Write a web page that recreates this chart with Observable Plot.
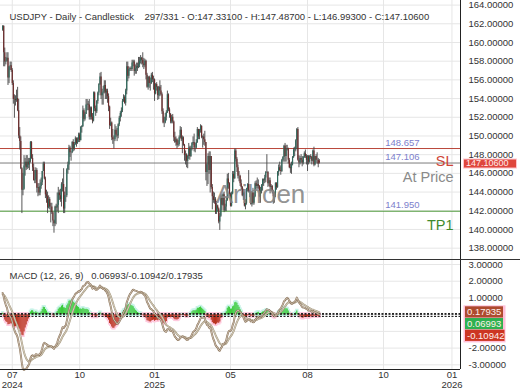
<!DOCTYPE html>
<html><head><meta charset="utf-8">
<script src="https://cdn.jsdelivr.net/npm/d3@7"></script>
<script src="https://cdn.jsdelivr.net/npm/@observablehq/plot@0.6"></script>
<style>
html,body{margin:0;padding:0;background:#fff;}
#chart{position:relative;width:520px;height:390px;overflow:hidden;background:#fff;}
#chart svg{position:absolute;left:0;}
#sep{position:absolute;left:0;top:259px;width:520px;height:1px;background:#333;}
</style></head><body><div id="chart"></div>
<script>
// ---- Daily OHLC, USDJPY, 2024-07-10 .. 2025-08-29 (one entry per trading day) ----
const open = [
161.3,161.7,158.9,157.9,158.0,158.3,156.2,157.4,157.5,157.0,155.6,153.9,153.9,153.8,154.0,152.7,
150.0,149.4,146.5,144.2,144.3,146.8,147.2,146.6,147.2,146.9,147.3,149.3,147.6,146.6,145.2,145.3,146.3,144.4,144.5,143.9,144.6,145.0,
146.2,147.0,145.4,143.7,143.5,142.3,143.2,142.4,142.4,141.8,140.9,140.6,142.4,142.3,142.6,143.9,143.6,143.2,144.8,144.8,142.2,
143.6,143.6,146.4,146.9,148.7,148.2,148.2,149.3,148.6,149.1,149.7,149.2,149.6,150.1,149.5,150.9,151.0,152.7,151.8,152.3,153.3,153.4,153.3,
152.0,153.0,152.0,151.6,154.6,152.9,152.6,153.7,154.6,155.5,156.3,154.3,154.6,154.7,155.4,154.6,154.8,154.2,153.1,151.1,151.4,
149.8,149.6,149.6,150.6,150.1,150.0,151.2,151.9,152.4,152.7,153.7,154.1,153.5,154.8,157.4,156.4,157.1,157.2,157.1,157.8,157.9,156.9,
157.2,157.4,157.3,157.6,158.0,158.3,158.1,157.7,157.5,158.0,156.5,155.2,156.3,155.6,155.6,156.5,156.0,156.0,154.5,155.5,155.2,154.3,
155.2,154.8,154.4,152.6,151.4,151.4,152.0,152.5,154.4,152.8,152.3,151.5,152.0,151.5,149.8,149.3,149.6,149.0,149.1,149.8,
150.6,149.6,149.8,149.0,147.9,148.0,147.3,147.8,148.7,147.8,148.6,149.2,149.3,148.7,148.7,149.3,150.7,149.9,150.6,151.0,149.8,
149.9,149.6,149.3,146.1,146.9,147.8,146.3,147.8,144.5,143.5,143.1,143.2,141.8,142.5,142.2,140.8,141.4,143.5,142.6,143.7,142.0,142.4,
143.1,145.4,144.9,143.7,142.5,143.8,145.9,145.4,148.4,147.5,146.6,145.7,145.7,144.9,144.5,143.6,143.9,142.5,142.8,144.3,144.8,144.1,
144.0,142.7,143.9,142.8,143.5,144.9,144.6,144.8,144.6,143.5,144.1,144.7,145.3,145.2,145.5,146.1,146.1,144.9,145.2,144.5,144.6,
144.0,143.5,143.6,144.9,144.5,146.1,146.6,146.3,146.2,147.4,147.7,148.9,147.8,148.6,148.6,147.4,146.6,146.5,146.9,147.7,148.5,148.5,149.5,
150.7,147.4,147.1,147.6,147.4,147.1,147.7,148.1,147.8,147.4,147.8,147.2,147.8,147.7,147.3,148.4,146.9,147.8,147.4,147.4,147.331];
const high = [
161.8,161.8,159.4,158.4,158.9,158.9,157.4,157.9,157.9,157.2,155.9,154.4,154.3,154.9,155.2,153.9,
150.9,149.9,146.6,146.0,147.9,147.6,147.9,147.9,147.6,147.6,149.4,149.4,148.0,147.0,146.3,146.6,146.5,144.9,144.9,145.3,145.5,146.2,
147.2,147.2,145.6,144.2,144.0,143.6,143.4,142.8,142.8,141.9,141.0,142.5,142.7,143.9,144.5,144.2,144.3,145.0,145.4,146.5,144.0,
144.5,146.5,147.2,149.0,148.9,148.3,149.4,149.6,149.3,149.9,149.8,149.8,150.3,150.3,151.0,151.1,153.2,152.9,152.5,153.9,153.9,153.7,153.9,
153.1,153.1,152.4,154.7,154.7,153.2,153.8,154.7,155.6,156.7,156.8,155.0,155.3,155.9,155.9,155.0,155.0,154.5,153.2,151.9,151.5,
150.7,150.0,151.2,151.0,150.8,151.3,152.1,152.6,153.0,153.9,154.4,154.3,155.0,157.9,157.9,157.4,157.3,157.4,158.1,158.1,158.1,157.6,
157.8,157.8,158.4,158.4,158.6,158.4,158.9,158.3,158.2,158.1,156.7,156.3,156.4,156.2,156.7,156.8,156.4,156.1,155.6,155.7,155.3,155.3,
155.9,155.4,154.6,152.9,152.0,152.4,152.7,154.8,154.5,153.0,152.4,152.2,152.3,151.6,150.4,149.9,149.7,149.5,150.0,151.0,
150.9,150.0,149.9,149.1,148.4,148.1,147.9,149.2,148.9,148.9,149.3,149.9,150.2,149.2,149.6,150.9,150.7,150.7,151.2,151.1,150.0,
150.2,150.5,149.3,147.0,148.1,148.3,148.3,147.8,144.8,144.0,143.9,143.4,143.0,142.6,142.3,141.7,143.7,143.7,143.9,144.0,142.7,143.4,
145.9,146.0,145.0,143.9,144.0,146.2,146.2,148.6,148.6,147.7,146.9,146.2,145.8,145.3,144.6,144.3,144.0,143.2,144.4,144.9,146.3,144.2,
144.0,144.0,144.4,143.9,145.1,145.2,145.5,145.3,144.7,144.5,144.8,145.4,145.4,145.8,146.2,148.0,146.2,145.5,145.5,144.8,144.7,
144.2,144.0,145.0,145.0,146.2,146.9,147.2,146.8,147.5,147.8,149.0,149.2,149.0,149.0,148.7,147.6,147.0,147.2,147.8,148.7,148.8,149.6,150.8,
150.9,147.9,147.8,148.0,147.8,147.8,148.3,148.5,148.0,147.9,147.9,147.9,148.0,147.8,148.5,148.8,147.8,148.0,148.2,147.6,147.487];
const low = [
161.2,157.4,157.4,157.6,157.9,155.4,155.6,157.0,156.8,155.4,153.4,151.9,153.2,153.6,152.6,149.7,
148.5,146.4,141.7,143.6,144.2,145.7,146.3,146.4,146.5,146.3,147.1,147.5,146.2,145.2,144.9,144.9,143.9,143.5,143.6,143.6,144.3,144.7,
146.2,145.3,143.3,142.8,141.7,142.2,142.1,140.7,141.6,140.3,139.6,140.3,140.5,141.9,141.7,143.1,142.9,142.4,144.0,141.7,141.7,
142.9,143.4,145.9,146.3,147.7,147.3,148.1,148.3,148.4,149.0,148.8,149.1,149.3,149.3,149.5,150.3,150.9,151.5,151.6,152.3,152.7,152.7,151.7,
151.7,151.7,151.3,151.5,152.6,152.1,152.4,153.4,154.3,155.4,153.9,153.3,153.3,154.5,153.9,153.9,153.5,152.6,150.7,151.0,149.5,
149.1,148.6,149.4,149.8,149.4,149.7,151.0,151.5,152.0,152.5,153.6,153.4,153.2,154.4,155.8,156.1,156.9,156.9,156.9,157.4,156.4,156.6,
156.6,156.9,157.2,157.3,157.7,157.6,157.3,157.1,157.3,156.0,155.1,154.9,155.1,154.8,155.5,155.7,154.9,153.7,154.4,154.8,153.8,153.9,
154.2,154.3,152.3,151.3,150.9,151.3,151.6,152.4,152.6,151.9,151.3,151.3,151.3,149.4,149.2,148.9,148.6,148.8,148.9,149.7,
149.4,148.1,148.9,147.3,146.9,146.6,146.5,147.5,147.4,147.7,148.4,149.0,148.3,148.2,148.6,149.2,149.6,149.6,150.3,149.7,148.7,
149.0,148.9,145.2,144.6,144.8,145.9,143.9,144.3,142.1,142.8,142.7,141.6,141.6,141.9,140.6,139.9,141.3,142.0,142.5,141.8,141.9,141.9,
143.0,144.3,143.5,142.4,142.4,143.7,145.0,145.4,147.2,146.1,145.4,145.1,144.6,144.2,143.5,143.1,142.4,142.1,142.6,144.0,143.9,143.4,
142.6,142.4,142.6,142.6,143.4,144.3,144.3,144.3,143.4,142.8,143.8,144.1,144.6,144.9,145.0,146.0,144.5,144.6,143.8,144.1,143.8,
142.7,142.8,143.4,144.2,144.4,145.7,146.2,145.8,146.1,147.2,147.2,147.2,147.2,148.4,147.0,146.5,146.0,145.9,146.8,147.6,147.8,148.3,148.6,
147.3,146.6,146.9,147.1,146.7,146.9,147.6,147.6,146.9,146.2,146.9,147.1,147.5,146.9,147.2,146.7,146.8,147.1,147.0,146.6,146.993];
const close = [
161.7,158.9,157.9,158.0,158.3,156.2,157.4,157.5,157.0,155.6,153.9,153.9,153.8,154.0,152.7,150.0,
149.4,146.5,144.2,144.3,146.8,147.2,146.6,147.2,146.9,147.3,149.3,147.6,146.6,145.2,145.3,146.3,144.4,144.5,143.9,144.6,145.0,146.2,
147.0,145.4,143.7,143.5,142.3,143.2,142.4,142.4,141.8,140.9,140.6,142.4,142.3,142.6,143.9,143.6,143.2,144.8,144.8,142.2,143.6,
143.6,146.4,146.9,148.7,148.2,148.2,149.3,148.6,149.1,149.7,149.2,149.6,150.1,149.5,150.9,151.0,152.7,151.8,152.3,153.3,153.4,153.3,152.0,
153.0,152.0,151.6,154.6,152.9,152.6,153.7,154.6,155.5,156.3,154.3,154.6,154.7,155.4,154.6,154.8,154.2,153.1,151.1,151.4,149.8,
149.6,149.6,150.6,150.1,150.0,151.2,151.9,152.4,152.7,153.7,154.1,153.5,154.8,157.4,156.4,157.1,157.2,157.1,157.8,157.9,156.9,157.2,
157.4,157.3,157.6,158.0,158.3,158.1,157.7,157.5,158.0,156.5,155.2,156.3,155.6,155.6,156.5,156.0,156.0,154.5,155.5,155.2,154.3,155.2,
154.8,154.4,152.6,151.4,151.4,152.0,152.5,154.4,152.8,152.3,151.5,152.0,151.5,149.8,149.3,149.6,149.0,149.1,149.8,150.6,
149.6,149.8,149.0,147.9,148.0,147.3,147.8,148.7,147.8,148.6,149.2,149.3,148.7,148.7,149.3,150.7,149.9,150.6,151.0,149.8,149.9,
149.6,149.3,146.1,146.9,147.8,146.3,147.8,144.5,143.5,143.1,143.2,141.8,142.5,142.2,140.8,141.4,143.5,142.6,143.7,142.0,142.4,143.1,
145.4,144.9,143.7,142.5,143.8,145.9,145.4,148.4,147.5,146.6,145.7,145.7,144.9,144.5,143.6,143.9,142.5,142.8,144.3,144.8,144.1,144.0,
142.7,143.9,142.8,143.5,144.9,144.6,144.8,144.6,143.5,144.1,144.7,145.3,145.2,145.5,146.1,146.1,144.9,145.2,144.5,144.6,144.0,
143.5,143.6,144.9,144.5,146.1,146.6,146.3,146.2,147.4,147.7,148.9,147.8,148.6,148.6,147.4,146.6,146.5,146.9,147.7,148.5,148.5,149.5,150.7,
147.4,147.1,147.6,147.4,147.1,147.7,148.1,147.8,147.4,147.8,147.2,147.8,147.7,147.3,148.4,146.9,147.8,147.4,147.4,147.0,147.106];

// ---- Axis ticks / labels ----
const priceTicks = [138,140,142,144,146,148,150,152,154,156,158,160,162,164];
const macdTicks = [-3,-2,-1,0,1,2,3];
const macdLabelTicks = [-3,-2,1,2,3]; // 0 and -1 sit under the read-out tags
const timeTickBars = [9, 72, 142, 213, 285, 356, 420];
const timeTickLabels = ["07\n2024","10","01\n2025","05","08","10","01\n2026"];

// ---- Trade levels ----
const levelValues = [148.657, 147.106, 141.950];
const levelNames = ["SL", "At Price", "TP1"];
const lastPrice = 147.106;

// ---- Legend texts / MACD read-out ----
const titleText = "USDJPY - Daily - Candlestick    297/331 - O:147.33100 - H:147.48700 - L:146.99300 - C:147.10600";
const macdParams = [12, 26, 9];
const macdReadout = [0.06993, -0.10942, 0.17935]; // MACD / signal / histogram
const macdTagValues = [0.17935, 0.06993, -0.10942];
const macdSeed = {ema12: 160.45, ema26: 159.15, signal: 1.2};
const watermark = "Arihoen";

// ---- build ----
const bars = close.map((c, i) => ({i, open: open[i], high: high[i], low: low[i], close: c}));
function ema(values, n, seed) { const k = 2 / (n + 1); let e = seed; return values.map(v => (e = v * k + e * (1 - k))); }
const e12 = ema(close, macdParams[0], macdSeed.ema12);
const e26 = ema(close, macdParams[1], macdSeed.ema26);
const macd = e12.map((v, i) => v - e26[i]);
const signal = ema(macd, macdParams[2], macdSeed.signal);
const macdPts = macd.map((v, i) => ({i, v}));
const sigPts = signal.map((v, i) => ({i, v}));
const histPts = macd.map((v, i) => ({i, h: v - signal[i]}));

const font = '"Liberation Sans", Arial, Helvetica, sans-serif';
const xDom = [-2, 428];
const grid = "#e6e6e6";
const fmt5 = d => d.toFixed(5);

const main = Plot.plot({
  width: 520, height: 260, marginLeft: 0, marginRight: 60, marginTop: 0, marginBottom: 0,
  style: {fontFamily: font, fontSize: "9.5px", color: "#333", background: "#fff"},
  x: {domain: xDom, axis: null, label: null},
  y: {domain: [136.68, 164.49], axis: null, label: null},
  marks: [
    Plot.gridY(priceTicks, {stroke: grid, strokeOpacity: 1}),
    Plot.gridX(timeTickBars, {stroke: grid, strokeOpacity: 1}),
    Plot.axisY(priceTicks, {anchor: "right", tickSize: 0, tickPadding: 8, tickFormat: fmt5, color: "#333", fontSize: 9.5, label: null}),
    Plot.ruleY([levelValues[0]], {stroke: "#b9473a", strokeWidth: 1}),
    Plot.ruleY([levelValues[1]], {stroke: "#7d7d7d", strokeWidth: 1}),
    Plot.ruleY([levelValues[2]], {stroke: "#4f9a3c", strokeWidth: 1}),
    Plot.ruleX(bars, {x: "i", y1: "low", y2: "high", stroke: "#444", strokeWidth: 0.9}),
    Plot.ruleX(bars, {x: "i", y1: "open", y2: "close", stroke: d => d.close >= d.open ? "#2d6a5c" : "#6e2c2c", strokeWidth: 1.2}),
    Plot.text([watermark], {frameAnchor: "top-left", dx: 260, dy: 184, textAnchor: "middle", fontSize: 26, fill: "#858585", fillOpacity: 0.9}),
    Plot.text(levelValues, {y: d => d, frameAnchor: "right", dx: -41, dy: -6, text: d => d.toFixed(3), textAnchor: "end", fill: "#7d80cc", fontSize: 9.5}),
    Plot.text([levelNames[0]], {y: levelValues[1], frameAnchor: "right", dx: -7, dy: -2, textAnchor: "end", fill: "#cf4436", fontSize: 14.5}),
    Plot.text([levelNames[1]], {y: levelValues[1], frameAnchor: "right", dx: -7, dy: 14, textAnchor: "end", fill: "#8a8a8a", fontSize: 14.5}),
    Plot.text([levelNames[2]], {y: levelValues[2], frameAnchor: "right", dx: -7, dy: 14, textAnchor: "end", fill: "#3f8a2c", fontSize: 14.5}),
    Plot.ruleX([xDom[1]], {stroke: "#222", strokeWidth: 1}),
    Plot.text([titleText], {frameAnchor: "top-left", dx: 9, dy: 12.5, textAnchor: "start", fill: "#333", fontSize: 9.5})
  ]
});
main.style.top = "0px";

const sub = Plot.plot({
  width: 520, height: 130, marginLeft: 0, marginRight: 60, marginTop: 0, marginBottom: 21,
  style: {fontFamily: font, fontSize: "9.5px", color: "#333", background: "#fff"},
  x: {domain: xDom, axis: null, label: null},
  y: {domain: [-3.28, 3.24], axis: null, label: null},
  marks: [
    Plot.gridY(macdTicks, {stroke: grid, strokeOpacity: 1}),
    Plot.gridX(timeTickBars, {stroke: grid, strokeOpacity: 1}),
    Plot.axisY(macdLabelTicks, {anchor: "right", tickSize: 0, tickPadding: 8, tickFormat: fmt5, color: "#333", fontSize: 9.5, label: null}),
    Plot.axisX(timeTickBars, {anchor: "bottom", tickSize: 0, tickPadding: 2, tickFormat: d => timeTickLabels[timeTickBars.indexOf(d)], color: "#333", fontSize: 9.5, lineHeight: 1.0, label: null}),
    Plot.ruleX(histPts, {x: "i", y1: 0, y2: "h", stroke: d => d.h >= 0 ? "#c9f3e8" : "#ffcade", strokeWidth: 3.4, strokeLinecap: "square"}),
    Plot.ruleX(histPts, {x: "i", y1: 0, y2: "h", stroke: d => d.h >= 0 ? "#3ccb3c" : "#b9331f", strokeWidth: 1.1}),
    Plot.ruleY([macdReadout[0], 0, macdReadout[1]], {stroke: "#222", strokeWidth: 1, strokeDasharray: "2,1.5"}),
    Plot.line(sigPts, {x: "i", y: "v", stroke: "#a09378", strokeWidth: 1.9}),
    Plot.line(sigPts, {x: "i", y: "v", stroke: "#f6f2ea", strokeWidth: 0.6}),
    Plot.line(macdPts, {x: "i", y: "v", stroke: "#866d52", strokeWidth: 1.9}),
    Plot.line(macdPts, {x: "i", y: "v", stroke: "#f6f2ea", strokeWidth: 0.6}),
    Plot.ruleX([xDom[1]], {stroke: "#222", strokeWidth: 1}),
    Plot.ruleY([-3.28], {stroke: "#222", strokeWidth: 1}),
    Plot.text([`MACD (${macdParams.join(", ")})   ${macdReadout.map(v => v.toFixed(5)).join("/")}`], {frameAnchor: "top-left", dx: 9, dy: 12, textAnchor: "start", fill: "#333", fontSize: 9.5})
  ]
});
sub.style.top = "260px";

const chart = document.getElementById("chart");
chart.appendChild(main);
chart.appendChild(sub);
const sep = document.createElement("div"); sep.id = "sep"; chart.appendChild(sep);

// price tag on the main axis
{
  const y = main.scale("y").apply(lastPrice);
  const g = d3.select(main).append("g").attr("text-anchor", "start");
  g.append("rect").attr("x", 463.5).attr("y", y - 3.5).attr("width", 53).attr("height", 9)
    .attr("fill", "#df463c").attr("stroke", "#ffc4cc").attr("stroke-width", 1);
  g.append("text").attr("x", 466).attr("y", y + 1).attr("dy", "0.32em").attr("fill", "#ffecec")
    .attr("text-anchor", "start").attr("font-family", font).attr("font-size", 9).text(fmt5(lastPrice));
}
// stacked read-out tags on the MACD axis
{
  const ys = sub.scale("y");
  const h = 11.7, top = ys.apply(macdTagValues[0]) + 1 - h / 2;
  const fills = ["#ad4a2e", "#2eb150", "#cc3522"];
  const g = d3.select(sub).append("g").attr("text-anchor", "start");
  g.append("rect").attr("x", 463.5).attr("y", top - 1).attr("width", 42).attr("height", h * 3 + 2)
    .attr("fill", "#ffc0da");
  macdTagValues.forEach((v, k) => {
    g.append("rect").attr("x", 465).attr("y", top + k * h).attr("width", 38 + (k === 2 ? 1.5 : 0)).attr("height", h - 0.5).attr("fill", fills[k]);
    g.append("text").attr("x", 467).attr("y", top + k * h + h / 2).attr("dy", "0.34em").attr("fill", "#fff0ea")
      .attr("text-anchor", "start").attr("font-family", font).attr("font-size", 9.5).text(fmt5(v));
  });
}
</script></body></html>
